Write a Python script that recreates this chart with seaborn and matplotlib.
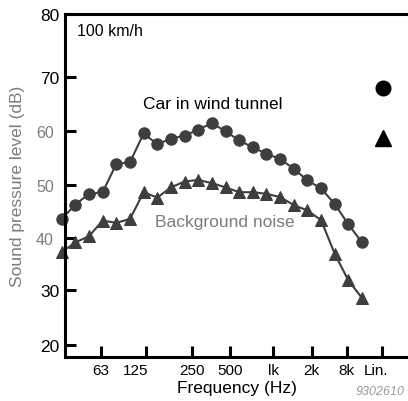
import numpy as np
import pandas as pd
import matplotlib
matplotlib.use("Agg")
import matplotlib.pyplot as plt
import matplotlib.transforms as mtransforms
from matplotlib.lines import Line2D
import seaborn as sns

# ======= Dados (1/3 oitava, 23 bandas) =======
bands = list(range(23))
car_level = [43.6, 46.3, 48.3, 48.6, 53.9, 54.2, 59.6, 57.6, 58.6, 59.2, 60.3, 61.5,
             60.0, 58.3, 57.0, 55.8, 54.8, 53.0, 50.8, 49.3, 46.4, 42.6, 39.2]
bg_level = [37.3, 39.2, 40.4, 43.3, 42.9, 43.6, 48.6, 47.6, 49.5, 50.6, 50.9, 50.3,
            49.5, 48.6, 48.6, 48.3, 47.7, 46.2, 45.2, 43.4, 37.0, 31.8, 28.5]

x_tick_pos = [2.88, 6.18, 9.57, 12.33, 15.48, 18.32, 20.88, 23.44]
x_tick_labels = ["63", "125", "250", "500", "lk", "2k", "8k", "Lin."]
y_ticks = [20, 30, 40, 50, 60, 70, 80]

df = pd.DataFrame({
    "band": bands * 2,
    "level": car_level + bg_level,
    "serie": ["car"] * len(bands) + ["bg"] * len(bands),
})

# ======= Figura =======
sns.set_theme(style="white")
plt.rcParams["font.family"] = ["Liberation Sans", "DejaVu Sans"]

fig = plt.figure(figsize=(4.08, 4.02), dpi=100)
ax = fig.add_axes([65 / 408, 44.5 / 402, 343 / 408, 342.5 / 402])

# escala do eixo y como no original (não-linear no topo)
db_knots = [0, 20, 30, 40, 50, 60, 70, 80, 100]
h_knots = [-56.2, 53.8, 109.3, 160.7, 214.3, 267.7, 322.3, 385, 510]
ax.set_yscale("function", functions=(lambda v: np.interp(v, db_knots, h_knots),
                                     lambda w: np.interp(w, h_knots, db_knots)))

dark = "#3e3e3e"
grey = "#7c7c7c"
sns.lineplot(data=df[df.serie == "car"], x="band", y="level", ax=ax, color=dark,
             marker="o", markersize=8.2, markeredgecolor=dark, linewidth=1.5,
             clip_on=False, legend=False)
sns.lineplot(data=df[df.serie == "bg"], x="band", y="level", ax=ax, color=dark,
             marker="^", markersize=8.8, markeredgecolor=dark, linewidth=1.5,
             clip_on=False, legend=False)

ax.set_xlim(0.24, 25.37)
ax.set_ylim(17.95, 80)

for side in ["left", "bottom", "top"]:
    ax.spines[side].set_color("black")
    ax.spines[side].set_linewidth(2.2)
ax.spines["right"].set_visible(False)

ax.set_xticks(x_tick_pos, x_tick_labels)
ax.set_yticks(y_ticks, [str(v) for v in y_ticks])
ax.tick_params(axis="x", direction="in", length=8, width=2.2, pad=5,
               labelsize=11, colors="black", bottom=True)
ax.tick_params(axis="y", direction="in", length=8, width=2.2, pad=4,
               labelsize=12.5, colors="black", left=True)

# ticks 40/50/60 em cinza (parte colada do gráfico original)
for t, v in zip(ax.yaxis.get_major_ticks(), y_ticks):
    if v in (40, 50, 60):
        t.tick1line.set_color(grey)
        t.tick1line.set_markeredgewidth(1.3)
        t.label1.set_color(grey)
        t.label1.set_fontsize(11.5)
        t.set_pad(8)

# pequenos deslocamentos dos rótulos do eixo x
shifts = {"125": -10, "Lin.": -6}
for lab in ax.get_xticklabels():
    dx = shifts.get(lab.get_text(), 0)
    if dx:
        lab.set_transform(lab.get_transform() +
                          mtransforms.ScaledTranslation(dx / 100, 0, fig.dpi_scale_trans))

ax.set_xlabel("Frequency (Hz)", fontsize=12.5, color="black", labelpad=2)
ax.set_ylabel("Sound pressure level (dB)", fontsize=12.5, color=grey, labelpad=8)
ax.grid(False)

ax.text(0.034, 0.952, "100 km/h", transform=ax.transAxes, fontsize=11.5,
        ha="left", va="center", color="black")
ax.text(0.430, 0.740, "Car in wind tunnel", transform=ax.transAxes, fontsize=12.5,
        ha="center", va="center", color="black")
ax.text(0.4665, 0.394, "Background noise", transform=ax.transAxes, fontsize=12.5,
        ha="center", va="center", color=grey)

# marcadores soltos à direita (legenda sem texto)
handles = [Line2D([], [], marker="o", ls="", color="black", markersize=10.5),
           Line2D([], [], marker="^", ls="", color="black", markersize=11)]
ax.legend(handles=handles, labels=["", ""], loc="center", bbox_to_anchor=(0.928, 0.708),
          frameon=False, handlelength=1, handletextpad=0, labelspacing=2.55, fontsize=10,
          borderpad=0)

fig.text(356 / 408, 1 - 392 / 402, "9302610", fontsize=9, style="italic",
         color="#9a9a9a", ha="left", va="center")

fig.savefig("out.png", dpi=100)
